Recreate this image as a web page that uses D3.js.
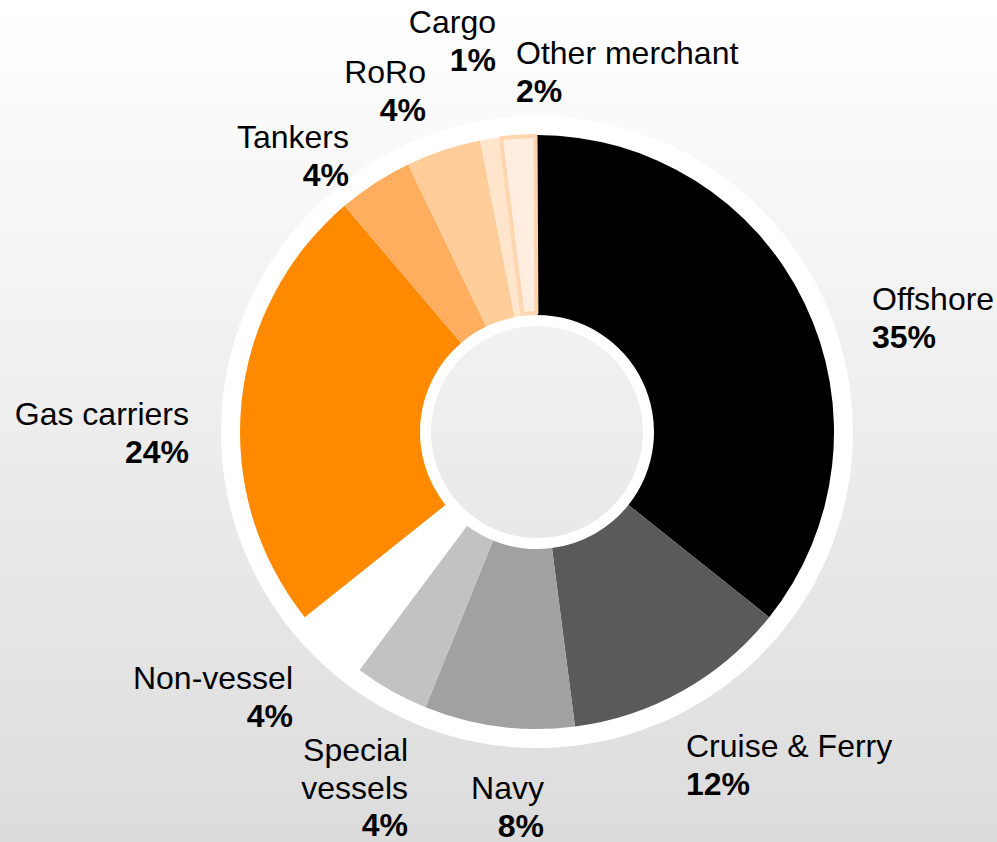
<!DOCTYPE html>
<html>
<head>
<meta charset="utf-8">
<script src="https://cdn.jsdelivr.net/npm/d3@7/dist/d3.min.js"></script>
<style>
  html, body { margin: 0; padding: 0; background: #fff; }
  svg { display: block; }
  text { font-family: "Liberation Sans", Arial, sans-serif; fill: #000; }
</style>
</head>
<body>
<svg id="chart" width="997" height="842"></svg>
<script>
// ---- data ----
const categories = ["Offshore", "Cruise & Ferry", "Navy", "Special vessels", "Non-vessel",
                    "Gas carriers", "Tankers", "RoRo", "Cargo", "Other merchant"];
const shares = [35, 12, 8, 4, 4, 24, 4, 4, 1, 2];
const colors = ["#000000", "#5a5a5a", "#a1a1a1", "#c2c2c2", "#ffffff",
                "#ff8a00", "#ffad5e", "#ffcd99", "#fee5cc", "#ffeedf"];

// ---- layout (label placement, not data) ----
const labelLayout = {
  "Offshore":        { x: 872, y: 310, anchor: "start", lines: ["Offshore"] },
  "Cruise & Ferry":  { x: 686, y: 757, anchor: "start", lines: ["Cruise & Ferry"] },
  "Navy":            { x: 544, y: 799, anchor: "end",   lines: ["Navy"] },
  "Special vessels": { x: 408, y: 761, anchor: "end",   lines: ["Special", "vessels"] },
  "Non-vessel":      { x: 293, y: 689, anchor: "end",   lines: ["Non-vessel"] },
  "Gas carriers":    { x: 189, y: 425, anchor: "end",   lines: ["Gas carriers"] },
  "Tankers":         { x: 349, y: 148, anchor: "end",   lines: ["Tankers"] },
  "RoRo":            { x: 426, y: 83,  anchor: "end",   lines: ["RoRo"] },
  "Cargo":           { x: 496, y: 33,  anchor: "end",   lines: ["Cargo"] },
  "Other merchant":  { x: 516, y: 64,  anchor: "start", lines: ["Other merchant"] }
};

const W = 997, H = 842;
const cx = 537, cy = 432;
const rOuter = 297, rInner = 117;
const ringOuter = 316, ringInner = 106;
const fontSize = 32, lineH = 37.5;

const svg = d3.select("#chart");
const defs = svg.append("defs");
const grad = defs.append("linearGradient").attr("id", "bg")
  .attr("x1", 0).attr("y1", 0).attr("x2", 0).attr("y2", 1);
grad.append("stop").attr("offset", "0%").attr("stop-color", "#ffffff");
grad.append("stop").attr("offset", "100%").attr("stop-color", "#dcdcdc");

svg.append("rect").attr("width", W).attr("height", H).attr("fill", "url(#bg)");

const g = svg.append("g").attr("transform", `translate(${cx},${cy})`);

// white ring behind the donut (hole stays transparent)
g.append("path")
  .attr("d", d3.arc().innerRadius(ringInner).outerRadius(ringOuter)
    .startAngle(0).endAngle(2 * Math.PI)())
  .attr("fill", "#ffffff");

const data = categories.map((c, i) => ({ name: c, value: shares[i], color: colors[i] }));
const pie = d3.pie().sort(null).value(d => d.value);
const arcs = pie(data);
const arc = d3.arc().innerRadius(rInner).outerRadius(rOuter);
const arcInset = d3.arc().innerRadius(rInner + 2).outerRadius(rOuter - 1);

g.selectAll("path.slice")
  .data(arcs)
  .enter().append("path")
  .attr("class", "slice")
  .attr("d", d => d.data.name === "Other merchant"
      ? arcInset({ ...d, startAngle: d.startAngle + 0.006, endAngle: d.endAngle - 0.005 })
      : arc(d))
  .attr("fill", d => d.data.color)
  .attr("stroke", d => d.data.name === "Other merchant" ? "#fdd5ae" : "none")
  .attr("stroke-width", d => d.data.name === "Other merchant" ? 4 : 0)
  .attr("stroke-linejoin", "round");

// labels
const labels = svg.append("g");
arcs.forEach(d => {
  const L = labelLayout[d.data.name];
  const t = labels.append("text")
    .attr("text-anchor", L.anchor)
    .attr("font-size", fontSize);
  L.lines.forEach((ln, i) => {
    t.append("tspan").attr("x", L.x).attr("y", L.y + i * lineH).text(ln);
  });
  t.append("tspan").attr("x", L.x).attr("y", L.y + L.lines.length * lineH)
    .attr("font-weight", "bold").text(d.data.value + "%");
});
</script>
</body>
</html>
